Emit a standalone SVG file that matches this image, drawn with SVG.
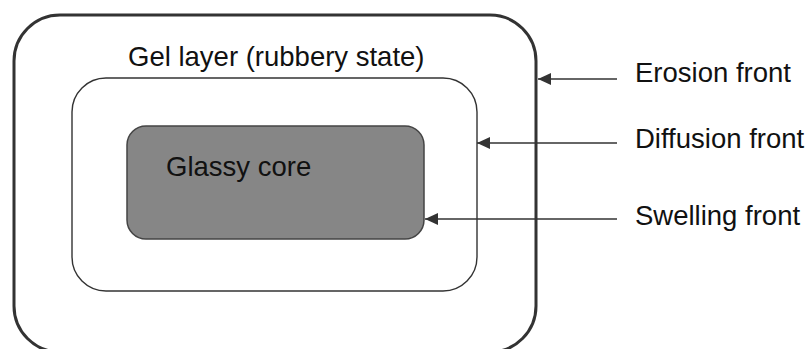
<svg xmlns="http://www.w3.org/2000/svg" width="809" height="349" viewBox="0 0 809 349">
<style>
  text { font-family: "Liberation Sans", Arial, sans-serif; font-size: 27.5px; fill: #111; }
  .conn { stroke: #333; stroke-width: 1.6; fill: none; marker-end: url(#arr); }
</style>
<defs>
  <marker id="arr" markerWidth="14" markerHeight="12" refX="13" refY="6" orient="auto" markerUnits="userSpaceOnUse">
    <path d="M0,0 L13,6 L0,12 Z" fill="#333"/>
  </marker>
</defs>
<rect width="809" height="349" fill="#fff"/>
<g id="outer">
  <rect x="14" y="15" width="522" height="337" rx="46" ry="46" fill="#fff" stroke="#333" stroke-width="3"/>
  <text x="128" y="66">Gel layer (rubbery state)</text>
</g>
<g id="gel">
  <rect x="72" y="78" width="405" height="213" rx="34" ry="34" fill="#fff" stroke="#333" stroke-width="1.4"/>
</g>
<g id="core">
  <rect x="127" y="126" width="297" height="113" rx="19" ry="19" fill="#868686" stroke="#444" stroke-width="1.5"/>
  <text x="166" y="176">Glassy core</text>
</g>
<g id="labels">
  <text x="635" y="82">Erosion front</text>
  <text x="635" y="148">Diffusion front</text>
  <text x="635" y="225">Swelling front</text>
</g>
<g id="connectors">
  <line class="conn" x1="617" y1="79" x2="538" y2="79"/>
  <line class="conn" x1="617" y1="143" x2="477" y2="143"/>
  <line class="conn" x1="617" y1="219" x2="425" y2="219"/>
</g>
</svg>
